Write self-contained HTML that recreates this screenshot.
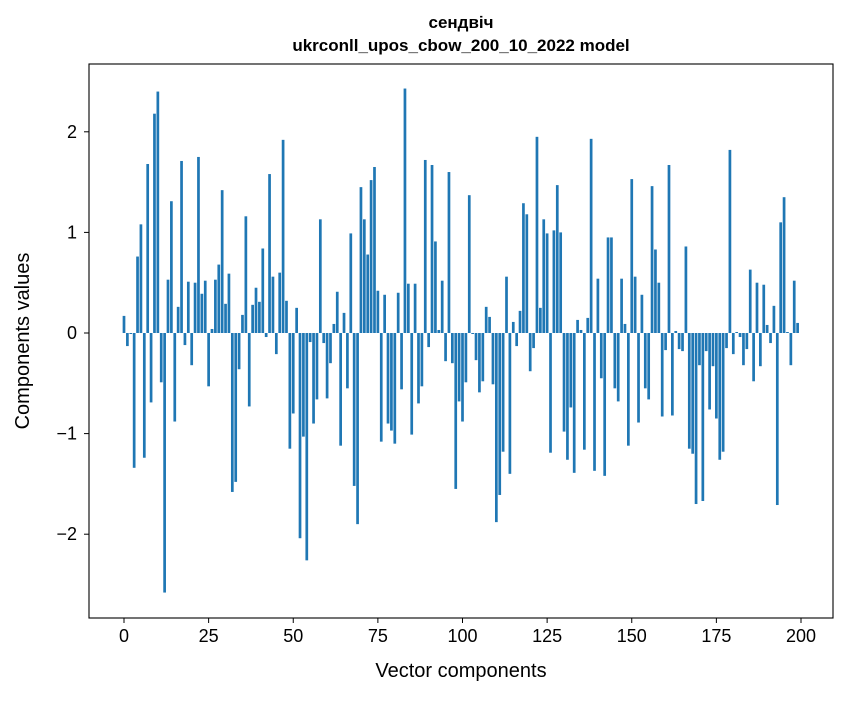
<!DOCTYPE html>
<html><head><meta charset="utf-8"><style>
body{margin:0;background:#fff;}
svg text{font-family:"Liberation Sans","DejaVu Sans",sans-serif;fill:#000;}
</style></head><body>
<svg id="chart" width="847" height="696" xmlns="http://www.w3.org/2000/svg">
<rect width="847" height="696" fill="#fff"/>
<text x="461" y="28" text-anchor="middle" font-size="17" font-weight="bold">сендвіч</text>
<text x="461" y="51" text-anchor="middle" font-size="17" font-weight="bold">ukrconll_upos_cbow_200_10_2022 model</text>
<g id="bars"></g>
<g id="axes"></g>
<text x="461" y="677" text-anchor="middle" font-size="20">Vector components</text>
<text transform="translate(29,341) rotate(-90)" text-anchor="middle" font-size="20">Components values</text>
</svg>
<script>
const values = [0.17,-0.13,-0.01,-1.34,0.76,1.08,-1.24,1.68,-0.69,2.18,2.40,-0.49,-2.58,0.53,1.31,-0.88,0.26,1.71,-0.12,0.51,-0.32,0.50,1.75,0.39,0.52,-0.53,0.04,0.53,0.68,1.42,0.29,0.59,-1.58,-1.48,-0.36,0.18,1.16,-0.73,0.28,0.45,0.31,0.84,-0.04,1.58,0.56,-0.21,0.60,1.92,0.32,-1.15,
-0.80,0.25,-2.04,-1.03,-2.26,-0.09,-0.90,-0.66,1.13,-0.10,-0.65,-0.30,0.09,0.41,-1.12,0.20,-0.55,0.99,-1.52,-1.90,1.45,1.13,0.78,1.52,1.65,0.42,-1.08,0.38,-0.90,-0.97,-1.10,0.40,-0.56,2.43,0.49,-1.01,0.49,-0.70,-0.53,1.72,-0.14,1.67,0.91,0.03,0.52,-0.28,1.60,-0.30,-1.55,-0.68,
-0.88,-0.49,1.37,-0.01,-0.27,-0.59,-0.48,0.26,0.16,-0.51,-1.88,-1.61,-1.18,0.56,-1.40,0.11,-0.13,0.22,1.29,1.18,-0.38,-0.15,1.95,0.25,1.13,0.99,-1.19,1.02,1.47,1.00,-0.98,-1.26,-0.74,-1.39,0.13,0.03,-1.16,0.15,1.93,-1.37,0.54,-0.45,-1.42,0.95,0.95,-0.55,-0.68,0.54,0.09,-1.12,
1.53,0.56,-0.89,0.38,-0.55,-0.66,1.46,0.83,0.50,-0.83,-0.17,1.67,-0.82,0.02,-0.16,-0.18,0.86,-1.15,-1.20,-1.70,-0.32,-1.67,-0.18,-0.76,-0.33,-0.85,-1.26,-1.18,-0.15,1.82,-0.21,0.01,-0.04,-0.32,-0.16,0.63,-0.48,0.50,-0.33,0.48,0.08,-0.10,0.27,-1.71,1.10,1.35,0.01,-0.32,0.52,0.10];
const xTicks = [0,25,50,75,100,125,150,175,200];
const yTicks = [-2,-1,0,1,2];
const yTickLabels = ["\u22122","\u22121","0","1","2"];

const NS="http://www.w3.org/2000/svg";
const L=89,R=833,T=64,B=618;
function xs(v){return 124+v*3.385;}
function ys(v){return 333-v*100.6;}
const bars=document.getElementById('bars');
values.forEach((v,i)=>{
  const r=document.createElementNS(NS,'rect');
  
  
  r.setAttribute('x',xs(i-0.4));
  r.setAttribute('width',3.385*0.8);
  r.setAttribute('y',Math.min(ys(v),ys(0)));
  r.setAttribute('height',Math.abs(ys(v)-ys(0)));
  r.setAttribute('fill','#1f77b4');
  bars.appendChild(r);
});
const ax=document.getElementById('axes');
const frame=document.createElementNS(NS,'rect');


frame.setAttribute('x',L);frame.setAttribute('y',T);
frame.setAttribute('width',R-L);frame.setAttribute('height',B-T);
frame.setAttribute('fill','none');frame.setAttribute('stroke','#000');frame.setAttribute('stroke-width','1.1');
ax.appendChild(frame);
xTicks.forEach(t=>{
  const l=document.createElementNS(NS,'line');
  
  
  l.setAttribute('x1',xs(t));l.setAttribute('x2',xs(t));l.setAttribute('y1',B);l.setAttribute('y2',B+5);
  l.setAttribute('stroke','#000');
  ax.appendChild(l);
  const tx=document.createElementNS(NS,'text');
  
  
  tx.setAttribute('x',xs(t));tx.setAttribute('y',B+24);
  tx.setAttribute('text-anchor','middle');tx.setAttribute('font-size','18');
  tx.textContent=t;
  ax.appendChild(tx);
});
yTicks.forEach((t,i)=>{
  const l=document.createElementNS(NS,'line');
  
  
  l.setAttribute('x1',L-5);l.setAttribute('x2',L);l.setAttribute('y1',ys(t));l.setAttribute('y2',ys(t));
  l.setAttribute('stroke','#000');
  ax.appendChild(l);
  const tx=document.createElementNS(NS,'text');
  
  
  tx.setAttribute('x',L-12);tx.setAttribute('y',ys(t)+6);
  tx.setAttribute('text-anchor','end');tx.setAttribute('font-size','18');
  tx.textContent=yTickLabels[i];
  ax.appendChild(tx);
});
</script>
</body></html>
